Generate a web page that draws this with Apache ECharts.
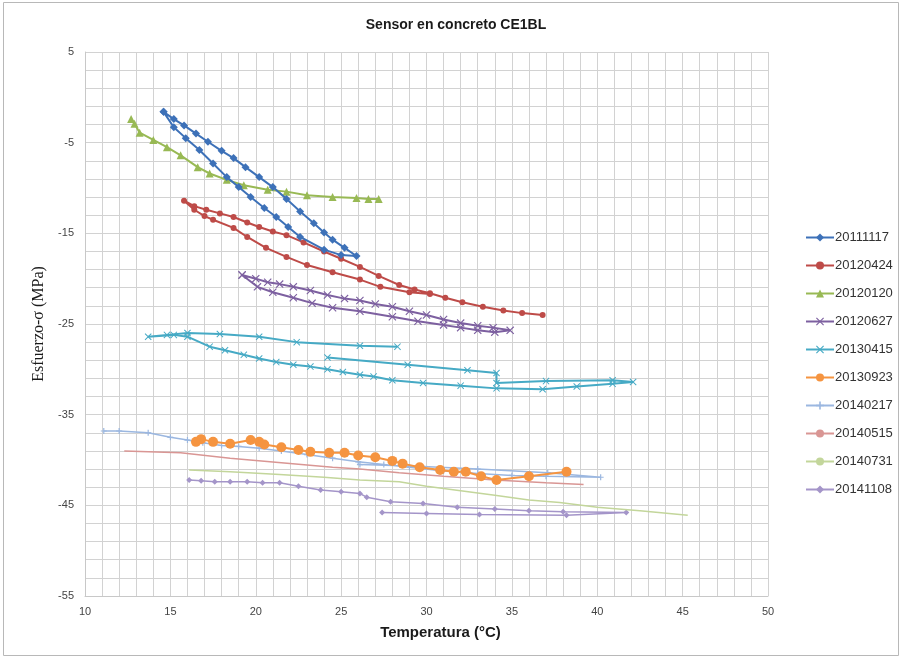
<!DOCTYPE html>
<html>
<head>
<meta charset="utf-8">
<script src="https://cdn.jsdelivr.net/npm/echarts/dist/echarts.min.js"></script>
<style>
html,body{margin:0;padding:0;background:#fff;}
#chart{width:902px;height:659px;}
</style>
</head>
<body>
<div id="chart"></div>
<script>
// ---- data (temperature °C, stress MPa) ----
var seriesNames = ['20111117','20120424','20120120','20120627','20130415','20130923','20140217','20140515','20140731','20141108'];
var xTicks = [10,15,20,25,30,35,40,45,50];
var yTicks = [-55,-45,-35,-25,-15,-5,5];

var s20111117 = [[14.6,-1.6],[15.2,-2.4],[15.8,-3.1],[16.5,-4.0],[17.2,-4.9],[18.0,-5.9],[18.7,-6.7],[19.4,-7.7],[20.2,-8.8],[21.0,-9.9],[21.8,-11.2],[22.6,-12.6],[23.4,-13.9],[24.0,-14.9],[24.5,-15.7],[25.2,-16.6],[25.9,-17.5],[25.0,-17.4],[24.0,-16.8],[22.6,-15.4],[21.9,-14.3],[21.2,-13.2],[20.5,-12.2],[19.7,-11.0],[19.0,-9.9],[18.3,-8.8],[17.5,-7.3],[16.7,-5.8],[15.9,-4.5],[15.2,-3.3],[14.6,-1.6]];
var s20120424 = [[36.8,-24.0],[35.6,-23.8],[34.5,-23.5],[33.3,-23.1],[32.1,-22.6],[31.1,-22.1],[30.2,-21.6],[29.3,-21.2],[28.4,-20.7],[27.2,-19.7],[26.1,-18.7],[25.0,-17.8],[24.0,-17.0],[22.8,-16.0],[21.8,-15.2],[21.0,-14.8],[20.2,-14.3],[19.5,-13.8],[18.7,-13.2],[17.9,-12.8],[17.1,-12.4],[16.4,-12.0],[15.8,-11.4],[16.4,-12.4],[17.0,-13.1],[17.5,-13.5],[18.7,-14.4],[19.5,-15.4],[20.6,-16.6],[21.8,-17.6],[23.0,-18.5],[24.5,-19.3],[26.1,-20.1],[27.3,-20.9],[29.0,-21.5],[30.2,-21.7]];
var s20120120 = [[12.7,-2.4],[12.9,-2.9],[13.2,-3.9],[14.0,-4.7],[14.8,-5.5],[15.6,-6.4],[16.6,-7.7],[17.3,-8.4],[18.3,-9.1],[19.3,-9.7],[20.7,-10.2],[21.8,-10.4],[23.0,-10.8],[24.5,-11.0],[25.9,-11.1],[26.6,-11.2],[27.2,-11.2]];
var s20120627 = [[19.2,-19.6],[20.0,-20.0],[20.7,-20.4],[21.4,-20.6],[22.2,-20.9],[23.2,-21.3],[24.2,-21.8],[25.2,-22.2],[26.1,-22.4],[27.0,-22.8],[28.0,-23.1],[29.0,-23.6],[30.0,-24.0],[31.0,-24.5],[32.0,-24.9],[33.0,-25.2],[33.9,-25.4],[34.9,-25.7],[34.0,-25.9],[33.0,-25.7],[32.0,-25.4],[31.0,-25.1],[29.5,-24.7],[28.0,-24.2],[26.1,-23.6],[24.5,-23.2],[23.3,-22.7],[22.2,-22.1],[21.0,-21.5],[20.1,-20.9],[19.2,-19.6]];
var s20130415 = [[28.3,-27.5],[26.1,-27.4],[22.4,-27.0],[20.2,-26.4],[17.9,-26.1],[16.0,-26.0],[14.8,-26.2],[13.7,-26.4],[15.2,-26.2],[16.0,-26.4],[17.3,-27.5],[18.2,-27.9],[19.3,-28.4],[20.2,-28.8],[21.2,-29.2],[22.2,-29.5],[23.2,-29.7],[24.2,-30.0],[25.1,-30.3],[26.1,-30.6],[26.9,-30.8],[28.0,-31.2],[29.8,-31.5],[32.0,-31.8],[34.1,-32.1],[36.8,-32.2],[38.8,-31.9],[40.9,-31.6],[42.1,-31.4],[40.9,-31.2],[37.0,-31.3],[34.1,-31.5],[34.1,-30.4],[32.4,-30.1],[28.9,-29.5],[24.2,-28.7]];
var s20130923 = [[16.5,-38.0],[16.8,-37.7],[17.5,-38.0],[18.5,-38.2],[19.7,-37.8],[20.2,-38.0],[20.5,-38.3],[21.5,-38.6],[22.5,-38.9],[23.2,-39.1],[24.3,-39.2],[25.2,-39.2],[26.0,-39.5],[27.0,-39.7],[28.0,-40.1],[28.6,-40.4],[29.6,-40.8],[30.8,-41.1],[31.6,-41.3],[32.3,-41.3],[33.2,-41.8],[34.1,-42.2],[36.0,-41.8],[38.2,-41.3]];
var s20140217 = [[11.1,-36.8],[12.0,-36.8],[13.7,-37.0],[15.0,-37.5],[16.0,-37.8],[16.9,-38.1],[18.0,-38.4],[19.0,-38.5],[20.2,-38.7],[21.5,-39.0],[23.0,-39.4],[24.5,-39.8],[26.0,-40.2],[27.5,-40.5],[29.0,-40.8],[31.0,-41.2],[33.0,-41.5],[35.0,-41.7],[37.0,-41.8],[40.2,-41.9],[37.1,-41.4],[33.0,-41.0],[29.5,-40.7],[26.1,-40.5]];
var s20140515 = [[12.3,-39.0],[15.6,-39.2],[18.5,-39.8],[21.5,-40.3],[24.5,-40.8],[26.1,-41.0],[28.4,-41.4],[31.0,-41.8],[34.0,-42.2],[37.0,-42.5],[39.2,-42.7]];
var s20140731 = [[16.1,-41.1],[18.5,-41.3],[21.4,-41.6],[24.0,-41.9],[26.1,-42.2],[28.4,-42.4],[30.0,-42.9],[32.0,-43.4],[34.0,-43.9],[36.0,-44.4],[37.8,-44.7],[40.0,-45.2],[42.5,-45.6],[45.3,-46.1]];
var s20141108 = [[16.1,-42.2],[16.8,-42.3],[17.6,-42.4],[18.5,-42.4],[19.5,-42.4],[20.4,-42.5],[21.4,-42.5],[22.5,-42.9],[23.8,-43.3],[25.0,-43.5],[26.1,-43.7],[26.5,-44.1],[27.9,-44.6],[29.8,-44.8],[31.8,-45.2],[34.0,-45.4],[36.0,-45.6],[38.0,-45.7],[41.7,-45.8],[38.2,-46.1],[33.1,-46.0],[30.0,-45.9],[27.4,-45.8]];

var allData = [s20111117,s20120424,s20120120,s20120627,s20130415,s20130923,s20140217,s20140515,s20140731,s20141108];

// ---- styles ----
var colors = ['#3D71B8','#BE4B48','#98B954','#7D60A0','#46AAC5','#F59440','#9BB7E0','#D99694','#C3D69B','#A495C9'];
var xPath = 'path://M0,1L1,0L5,4L9,0L10,1L6,5L10,9L9,10L5,6L1,10L0,9L4,5Z';
var plusPath = 'path://M4,0H6V4H10V6H6V10H4V6H0V4H4Z';
var symbols = ['diamond','circle','triangle',xPath,xPath,'circle',plusPath,'none','none','diamond'];
var symSizes = [8,6,8,8,7,10,6,0,0,6];
var widths = [2,2,2,2,2,2,1.5,1.5,1.5,1.5];

var series = seriesNames.map(function(n,i){
  return {
    name:n, type:'line', data:allData[i],
    symbol:symbols[i], symbolSize:symSizes[i], showSymbol: symbols[i] !== 'none',
    lineStyle:{color:colors[i], width:widths[i]},
    itemStyle:{color:colors[i]},
    animation:false, z: 10 - i
  };
});

function onTick(list){ return function(v){ return list.indexOf(Math.round(v*1000)/1000) >= 0 ? String(Math.round(v)) : ''; }; }

var chart = echarts.init(document.getElementById('chart'), null, {renderer:'canvas'});
chart.setOption({
  backgroundColor:'#fff',
  animation:false,
  title:{
    text:'Sensor en concreto CE1BL', left:451, top:13, textAlign:'center',
    textStyle:{fontFamily:'Liberation Sans, Arial, sans-serif', fontWeight:'bold', fontSize:14, color:'#1a1a1a'}
  },
  graphic:[{type:'rect', shape:{x:3.5,y:2.5,width:895,height:653}, style:{fill:'none', stroke:'#b8b8b8', lineWidth:1}, silent:true}],
  grid:{left:85, right:134, top:52, bottom:63, containLabel:false},
  legend:{
    orient:'vertical', left:800, top:226, itemWidth:28, itemHeight:10, itemGap:15,
    data:seriesNames,
    textStyle:{fontFamily:'Liberation Sans, Arial, sans-serif', fontSize:13, color:'#333', padding:[0,0,0,-4]}
  },
  xAxis:{
    type:'value', min:xTicks[0], max:xTicks[xTicks.length-1], interval:1,
    name:'Temperatura (°C)', nameLocation:'middle', nameGap:29,
    nameTextStyle:{fontFamily:'Liberation Sans, Arial, sans-serif', fontWeight:'bold', fontSize:15, color:'#1a1a1a', padding:[0,0,0,28]},
    axisLine:{show:true, onZero:false, lineStyle:{color:'#c8c8c8'}},
    axisTick:{show:false},
    axisLabel:{margin:10, fontFamily:'Liberation Sans, Arial, sans-serif', fontSize:11, color:'#444', interval:0, formatter:onTick(xTicks)},
    splitLine:{show:true, lineStyle:{color:'#d2d2d2', width:1}}
  },
  yAxis:{
    type:'value', min:yTicks[0], max:yTicks[yTicks.length-1], interval:2,
    name:'Esfuerzo-σ (MPa)', nameLocation:'middle', nameGap:36,
    nameTextStyle:{fontFamily:'Liberation Serif, Times New Roman, serif', fontSize:16, color:'#1a1a1a'},
    axisLine:{show:true, onZero:false, lineStyle:{color:'#c8c8c8'}},
    axisTick:{show:false},
    axisLabel:{margin:11, fontFamily:'Liberation Sans, Arial, sans-serif', fontSize:11, color:'#444', interval:0, formatter:onTick(yTicks)},
    splitLine:{show:true, lineStyle:{color:'#d2d2d2', width:1}}
  },
  series:series
});
</script>
</body>
</html>
